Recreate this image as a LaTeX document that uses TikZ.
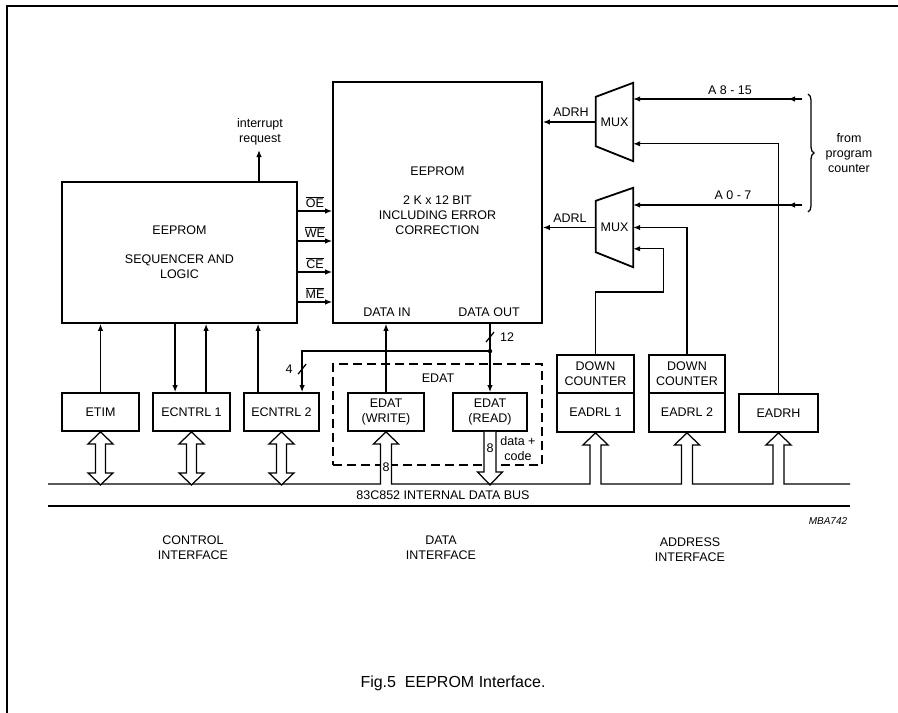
\documentclass[tikz,border=0pt]{standalone}
\usepackage{fontspec}
\setmainfont{Liberation Sans}
\usetikzlibrary{arrows.meta,calc,decorations.pathreplacing}
\begin{document}
\begin{tikzpicture}[x=1pt,y=-1pt,
  font=\fontsize{12.5}{15}\selectfont,
  box/.style={draw, line width=1.8pt, inner sep=0pt, align=center},
  conn/.style={line width=1.25pt},
  arr/.style={conn, -{Latex[length=7pt,width=5.5pt]}},
  lbl/.style={inner sep=0pt, align=center},
  hollow/.style={draw, fill=white, line width=1.25pt, line join=miter},
  dblarr/.pic={\filldraw[hollow] (0,0) -- (12.5,12) -- (5,12) -- (5,41) -- (12.5,41) -- (0,53) -- (-12.5,41) -- (-5,41) -- (-5,12) -- (-12.5,12) -- cycle;},
  busup/.style={insert path={-- ($(#1.south |- bus)+(-5.5,0)$) -- ($(#1.south)+(-5.5,12)$) -- ($(#1.south)+(-12.5,12)$) -- (#1.south) -- ($(#1.south)+(12.5,12)$) -- ($(#1.south)+(5.5,12)$) -- ($(#1.south |- bus)+(5.5,0)$)}}
]
\useasboundingbox (0,0) rectangle (898,713);
\fill[white] (0,0) rectangle (898,713);
\draw[line width=1.6pt] (7,713) -- (7,6) -- (898,6);

% main blocks
\node[box, minimum width=235pt, minimum height=141pt] (seq) at (179.5,252.5) {EEPROM\\[14pt]SEQUENCER AND\\LOGIC};
\node[box, minimum width=209pt, minimum height=241pt] (eep) at (437.5,202.5) {};
\node[lbl] (eept) at (437.5,200.5) {EEPROM\\[14pt]2 K x 12 BIT\\INCLUDING ERROR\\CORRECTION};
\node[lbl] (din) at (387,312) {DATA IN};
\node[lbl] (dout) at (489,312) {DATA OUT};

% multiplexers
\node[lbl, minimum width=37pt, minimum height=78pt] (mux1) at (614.5,122) {MUX};
\node[lbl, minimum width=37pt, minimum height=79pt] (mux2) at (614.5,227.5) {MUX};
\draw[line width=1.8pt, line join=miter] (mux1.north east) -- (mux1.south east) -- ($(mux1.south west)+(0,-15)$) -- ($(mux1.north west)+(0,14)$) -- cycle;
\draw[line width=1.8pt, line join=miter] (mux2.north east) -- (mux2.south east) -- ($(mux2.south west)+(0,-15)$) -- ($(mux2.north west)+(0,13)$) -- cycle;

% registers
\node[box, minimum width=77pt, minimum height=38pt] (etim) at (100.5,412) {ETIM};
\node[box, minimum width=77pt, minimum height=38pt] (ecn1) at (191.5,412) {ECNTRL 1};
\node[box, minimum width=75pt, minimum height=38pt] (ecn2) at (281.5,412) {ECNTRL 2};
\node[box, minimum width=76pt, minimum height=38pt] (ewr) at (386,412) {EDAT\\(WRITE)};
\node[box, minimum width=74pt, minimum height=38pt] (erd) at (490,412) {EDAT\\(READ)};
\node[box, minimum width=77pt, minimum height=38pt] (dc1) at (595.5,374) {DOWN\\COUNTER};
\node[box, minimum width=77pt, minimum height=39pt] (eadrl1) at (595.5,412.5) {EADRL 1};
\node[box, minimum width=76pt, minimum height=38pt] (dc2) at (687,374) {DOWN\\COUNTER};
\node[box, minimum width=76pt, minimum height=39pt] (eadrl2) at (687,412.5) {EADRL 2};
\node[box, minimum width=79pt, minimum height=38pt] (eadrh) at (778.5,413) {EADRH};

% interrupt request
\coordinate (irq) at (259,150);
\draw[arr] (irq |- seq.north) -- (irq);
\node[lbl] at (260,132) {interrupt\\request};

% control signals
\foreach \yy/\name/\txt in {211/s1/OE, 241/s2/WE, 272/s3/CE, 302/s4/ME}{
  \coordinate (\name) at (0,\yy);
  \draw[arr] (seq.east |- \name) -- (eep.west |- \name);
  \node[lbl] at (315,\yy-9) {$\overline{\hbox{\txt}}$};
}

% address paths
\draw[arr] (mux1.west) -- (mux1.west -| eep.east);
\node[lbl] at (571,112) {ADRH};
\draw[arr] (mux2.west) -- (mux2.west -| eep.east);
\node[lbl] at (570,218) {ADRL};

\coordinate (pcH) at (802,99);
\draw[arr] (pcH) -- (pcH -| mux1.east);
\draw[arr] (pcH) -- ++(-14,0);
\node[lbl] at (730,90) {A 8 - 15};
\coordinate (pcL) at (802,205);
\draw[arr] (pcL) -- (pcL -| mux2.east);
\draw[arr] (pcL) -- ++(-14,0);
\node[lbl] at (733,195) {A 0 - 7};

\draw[line width=1.25pt, decorate, decoration={brace, amplitude=6pt}] (808,94) -- (808,212);
\node[lbl] at (849,153) {from\\program\\counter};

\draw[arr] (eadrh.north) |- ($(mux1.north east)+(0,61)$);
\draw[arr] (dc2.north) |- (mux2.east);
\draw[arr] (dc1.north) -- ++(0,-62) -| ($(mux2.north east)+(30,61)$) -- ($(mux2.north east)+(0,61)$);

% control register connections
\path ($(ecn1.north west)+(23,0)$) coordinate (e1a)
      ($(ecn1.north west)+(54,0)$) coordinate (e1b)
      ($(ecn2.north west)+(15,0)$) coordinate (e2a)
      ($(ecn2.north west)+(59,0)$) coordinate (e2b);
\draw[arr] (etim.north) -- (etim.north |- seq.south);
\draw[arr] (e1a |- seq.south) -- (e1a);
\draw[arr] (e1b) -- (e1b |- seq.south);
\draw[arr] (e2a) -- (e2a |- seq.south);

% data paths
\draw[arr] (ewr.north) -- (ewr.north |- eep.south);
\draw[arr] (erd.north |- eep.south) -- (erd.north);
\coordinate (j) at ($(erd.north)+(0,-41)$);
\fill (j) circle (2.2pt);
\draw[arr] (j) -| (e2b);
\draw[conn] ($(erd.north)+(-4,-50)$) -- ($(erd.north)+(4,-60)$);
\node[lbl] at ($(erd.north)+(17,-55)$) {12};
\draw[conn] ($(e2b)+(-4,-18)$) -- ($(e2b)+(4,-28)$);
\node[lbl] at ($(e2b)+(-13,-23)$) {4};

% EDAT group
\node[draw, line width=1.25pt, dash pattern=on 9pt off 5pt, minimum width=209pt, minimum height=101pt, inner sep=0pt] (edatbox) at (437.5,414.5) {};
\node[lbl] at (438,378) {EDAT};

% bus
\coordinate (bus) at (0,484);
\filldraw[hollow] ($(erd.south)+(-6,0)$) -- ($(erd.south)+(-6,40)$) -- ($(erd.south)+(-12.5,40)$) -- ($(erd.south)+(0,53)$) -- ($(erd.south)+(12.5,40)$) -- ($(erd.south)+(6,40)$) -- ($(erd.south)+(6,0)$);
\node[lbl] at ($(erd.south)+(0,16)$) {8};
\node[lbl] at (518,449) {data +\\code};
\fill[white] ($(ewr.south)+(-5.5,12)$) rectangle ($(ewr.south |- bus)+(5.5,0)$);
\draw[conn, line join=miter] (48,484) [busup=ewr] [busup=eadrl1] [busup=eadrl2] [busup=eadrh] -- (850,484);
\node[lbl, fill=white, inner sep=0.5pt] at ($(ewr.south)+(0,35)$) {8};
\draw[conn] (48,506) -- (850,506);
\node[lbl] at (443,495) {83C852 INTERNAL DATA BUS};

\pic at (etim.south) {dblarr};
\pic at (ecn1.south) {dblarr};
\pic at (ecn2.south) {dblarr};

% labels
\node[lbl, font=\fontsize{10}{12}\selectfont\itshape] at (828,521) {MBA742};
\node[lbl] at (193,547.5) {CONTROL\\INTERFACE};
\node[lbl] at (441,547.5) {DATA\\INTERFACE};
\node[lbl] at (690,549.5) {ADDRESS\\INTERFACE};
\node[lbl, font=\fontsize{16}{19}\selectfont] at (453,683) {Fig.5\ \ EEPROM Interface.};
\end{tikzpicture}
\end{document}
